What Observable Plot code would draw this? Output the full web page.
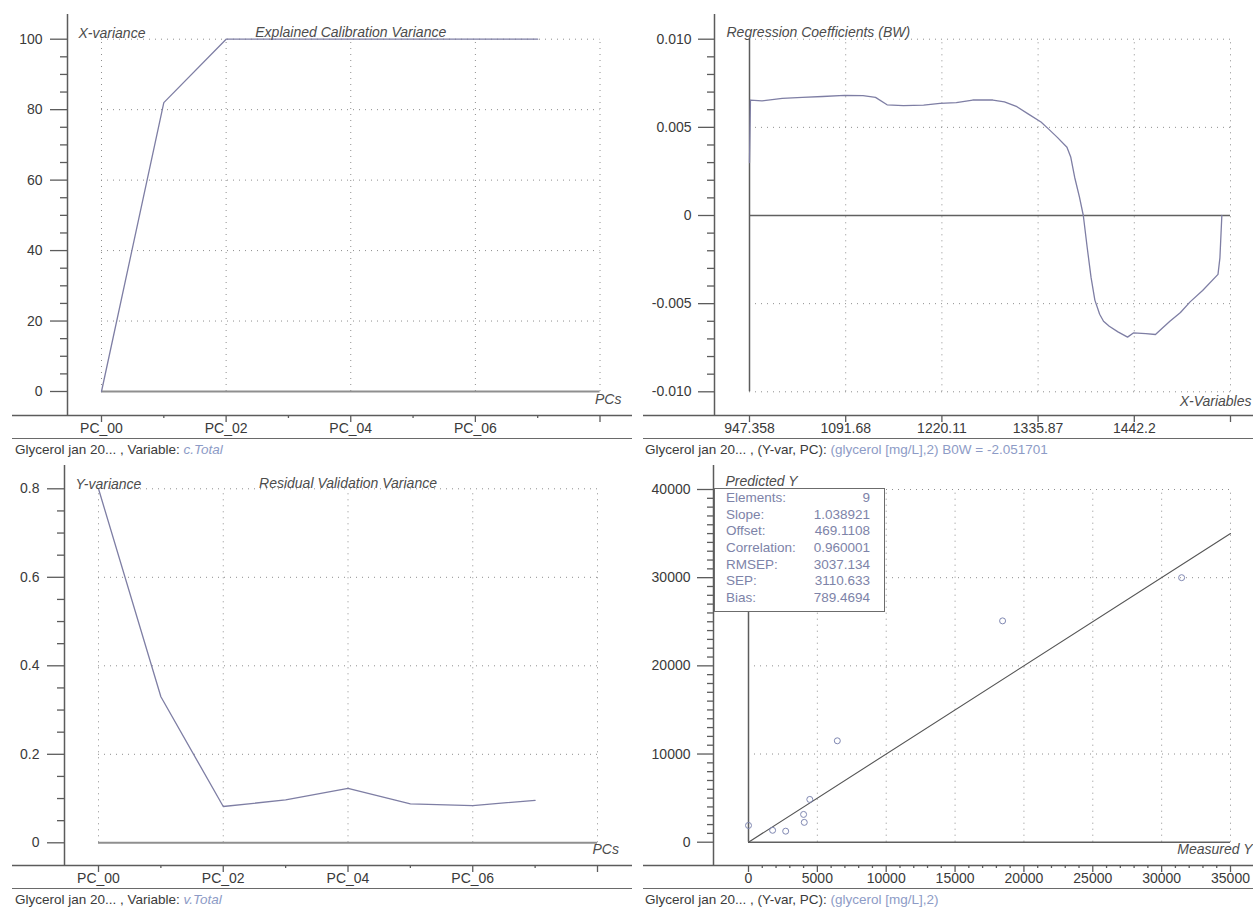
<!DOCTYPE html>
<html>
<head>
<meta charset="utf-8">
<script src="https://cdn.jsdelivr.net/npm/d3@7"></script>
<script src="https://cdn.jsdelivr.net/npm/@observablehq/plot@0.6"></script>
<style>
  body { margin: 0; background: #fff; }
  #wrap { position: relative; width: 1253px; height: 908px; background: #fff; overflow: hidden;
          font-family: "Liberation Sans", Arial, Helvetica, sans-serif; }
  .sep { position: absolute; height: 0; border-top: 1.5px solid #6a6a6a; }
  .foot { position: absolute; font-size: 13.5px; line-height: 16px; color: #3a3a3a; white-space: nowrap; }
  .foot .v { color: #8d9bc6; }
  .stats { position: absolute; box-sizing: border-box; background: #fff; border: 1.5px solid #6c6c6c;
           font-size: 13.5px; color: #7d83a8; padding: 1px 14px 0 11px; }
  .stats .row { display: flex; justify-content: space-between; height: 16.7px; line-height: 16.7px; }
</style>
</head>
<body>
<div id="wrap"></div>
<script>
// ---------------- DATA ----------------
const pcIndex = [0, 1, 2, 3, 4, 5, 6, 7];
const explainedXVariance = [0, 82, 100, 100, 100, 100, 100, 100];
const residualYVariance = [0.80, 0.33, 0.082, 0.097, 0.123, 0.088, 0.084, 0.096];
const pcTickValues = [0, 2, 4, 6, 8];
const pcTickLabels = ["PC_00", "PC_02", "PC_04", "PC_06", ""];

const coefIndex = [0, 1, 13, 34, 55, 76, 99, 118, 131, 143, 160, 181, 198, 215, 232, 253, 265, 278, 290, 303,
  311, 320, 330, 334, 338, 343, 347, 351, 355, 359, 364, 368, 374, 383, 393, 399, 412, 422, 429, 437,
  448, 458, 471, 487, 489, 491];
const coefValue = [0.0030, 0.00655, 0.0065, 0.00664, 0.0067, 0.00675, 0.00681, 0.0068, 0.0067, 0.00628,
  0.00623, 0.00626, 0.00636, 0.0064, 0.00655, 0.00655, 0.00645, 0.00617, 0.00575, 0.0053,
  0.0049, 0.00443, 0.00387, 0.0033, 0.00217, 0.00104, 0, -0.0018, -0.0035, -0.0048,
  -0.0056, -0.006, -0.00628, -0.0066, -0.0069, -0.00666, -0.0067, -0.00675, -0.0064, -0.006,
  -0.0055, -0.0049, -0.00425, -0.00334, -0.0024, 0];
const wavelengthTickIndex = [0, 100, 200, 300, 400, 500];
const wavelengthTickLabels = ["947.358", "1091.68", "1220.11", "1335.87", "1442.2", ""];
const coefTickValues = [-0.01, -0.005, 0, 0.005, 0.01];
const coefTickLabels = ["-0.010", "-0.005", "0", "0.005", "0.010"];

const measuredY = [0, 1750, 2700, 4000, 4050, 4450, 6450, 18450, 31450];
const predictedY = [1900, 1350, 1250, 3150, 2250, 4850, 11500, 25100, 30000];
const targetLine = [0, 35000];

const statNames = ["Elements:", "Slope:", "Offset:", "Correlation:", "RMSEP:", "SEP:", "Bias:"];
const statValues = ["9", "1.038921", "469.1108", "0.960001", "3037.134", "3110.633", "789.4694"];

// ---------------- STYLE ----------------
const FONT = '"Liberation Sans", Arial, Helvetica, sans-serif';
const AXIS = "#5c5c5c";
const GRID = "#8e8e8e";
const LINE = "#7e7ea4";
const TITLE = "#4c4c4c";
const wrap = document.getElementById("wrap");

function lin(v0, p0, v1, p1, pa, pb) {
  const k = (v1 - v0) / (p1 - p0);
  return [v0 + (pa - p0) * k, v0 + (pb - p0) * k];
}
function mount(svg, left, top) {
  svg.style.position = "absolute";
  svg.style.left = left + "px";
  svg.style.top = top + "px";
  wrap.appendChild(svg);
}
function baseStyle() {
  return {fontFamily: FONT, fontSize: "14px", color: "#3a3a3a", background: "transparent", overflow: "visible"};
}
const dotted = {stroke: GRID, strokeDasharray: "1,5", strokeWidth: 1};
const titleText = {fontStyle: "italic", fill: TITLE, fontSize: 14, fontFamily: FONT};

// Generic PC panel (left column)
function pcPanel(opt) {
  const {L, T, W, H, fl, fr, ft, fb, x0, x8, y0px, yTopVal, yTopPx, values, yMajor, yMinor, yLabel, title, lineStart} = opt;
  const xd = lin(0, x0, 8, x8, fl, fr);
  const yd = lin(0, y0px, yTopVal, yTopPx, fb, ft);
  const data = pcIndex.map((pc, i) => ({pc, v: values[i]}));
  const labelMap = new Map(pcTickValues.map((d, i) => [d, pcTickLabels[i]]));
  const svg = Plot.plot({
    width: W, height: H,
    marginLeft: fl - L, marginRight: L + W - fr, marginTop: ft - T, marginBottom: T + H - fb,
    x: {domain: xd, label: null},
    y: {domain: yd, label: null},
    style: baseStyle(),
    marks: [
      Plot.ruleX(pcTickValues, {y1: 0, y2: yTopVal, ...dotted}),
      Plot.ruleY(yMajor.filter(d => d !== 0), {x1: 0, x2: 8, ...dotted}),
      Plot.ruleY([0], {x1: 0, x2: 8, stroke: "#8f8f8f", strokeWidth: 2}),
      Plot.line(data, {x: "pc", y: "v", stroke: LINE, strokeWidth: 1.3}),
      Plot.ruleX([xd[0]], {stroke: AXIS, strokeWidth: 1.5}),
      Plot.ruleY([yd[0]], {stroke: AXIS, strokeWidth: 1.5, insetLeft: -(fl - L - lineStart), insetRight: 0}),
      Plot.axisY({ticks: yMajor, tickSize: 17, tickPadding: 8, stroke: AXIS, strokeWidth: 1.3, label: null,
                  tickFormat: d => d3.format("")(+d.toFixed(3)).replace("−", "-")}),
      Plot.axisY({ticks: yMinor, tickSize: 7, tickFormat: () => "", stroke: AXIS, strokeWidth: 1.3, label: null}),
      Plot.axisX({anchor: "bottom", ticks: pcTickValues, tickSize: 7, tickPadding: 1, stroke: AXIS, strokeWidth: 1.3,
                  label: null, tickFormat: d => labelMap.get(d) ?? ""}),
      Plot.axisX({anchor: "bottom", ticks: [1, 3, 5, 7], tickSize: 3, tickFormat: () => "", stroke: AXIS,
                  strokeWidth: 1.3, label: null}),
      Plot.text([yLabel], {frameAnchor: "top-left", dx: 11, dy: 14, textAnchor: "start", ...titleText}),
      Plot.text([title], {x: () => 4, frameAnchor: "top", dy: 13, textAnchor: "middle", ...titleText}),
      Plot.text(["PCs"], {x: () => 8, frameAnchor: "bottom", dx: -5, dy: -12, textAnchor: "start", ...titleText})
    ]
  });
  mount(svg, L, T);
}

// Panel 1: Explained Calibration Variance
pcPanel({L: 0, T: 0, W: 636, H: 440, fl: 67, fr: 632, ft: 14, fb: 415, x0: 101, x8: 599.5,
  y0px: 391, yTopVal: 100, yTopPx: 38.7, values: explainedXVariance,
  yMajor: [0, 20, 40, 60, 80, 100], yMinor: d3.range(0, 101, 5).filter(d => d % 20 !== 0),
  yLabel: "X-variance", title: "Explained Calibration Variance", lineStart: 12});

// Panel 3: Residual Validation Variance
pcPanel({L: 0, T: 440, W: 636, H: 447, fl: 64, fr: 632, ft: 465, fb: 865, x0: 98, x8: 597,
  y0px: 842.3, yTopVal: 0.8, yTopPx: 488.3, values: residualYVariance,
  yMajor: [0, 0.2, 0.4, 0.6, 0.8], yMinor: d3.range(1, 16).filter(d => d % 4 !== 0).map(d => d * 0.05),
  yLabel: "Y-variance", title: "Residual Validation Variance", lineStart: 12});

// Panel 2: Regression coefficients
{
  const L = 636, T = 0, W = 617, H = 440, fl = 714, fr = 1253, ft = 14, fb = 415;
  const xd = lin(0, 749, 500, 1230, fl, fr);
  const yd = lin(0, 215, 0.01, 38.7, fb, ft);
  const data = coefIndex.map((x, i) => ({x, v: coefValue[i]}));
  const xLab = new Map(wavelengthTickIndex.map((d, i) => [d, wavelengthTickLabels[i]]));
  const yLab = new Map(coefTickValues.map((d, i) => [d, coefTickLabels[i]]));
  const svg = Plot.plot({
    width: W, height: H,
    marginLeft: fl - L, marginRight: L + W - fr, marginTop: ft - T, marginBottom: T + H - fb,
    x: {domain: xd, label: null},
    y: {domain: yd, label: null},
    style: baseStyle(),
    marks: [
      Plot.ruleX(wavelengthTickIndex, {y1: -0.01, y2: 0.01, ...dotted}),
      Plot.ruleY(coefTickValues.filter(d => d !== 0), {x1: 0, x2: 500, ...dotted}),
      Plot.ruleX([0], {y1: -0.01, y2: 0.01, stroke: AXIS, strokeWidth: 1.5}),
      Plot.ruleY([0], {x1: 0, x2: 500, stroke: "#606060", strokeWidth: 1.5}),
      Plot.line(data, {x: "x", y: "v", stroke: LINE, strokeWidth: 1.3}),
      Plot.ruleX([xd[0]], {stroke: AXIS, strokeWidth: 1.5}),
      Plot.ruleY([yd[0]], {stroke: AXIS, strokeWidth: 1.5, insetLeft: -(fl - 643)}),
      Plot.axisY({ticks: coefTickValues, tickSize: 16, tickPadding: 7, stroke: AXIS, strokeWidth: 1.3, label: null,
                  tickFormat: d => yLab.get(d) ?? ""}),
      Plot.axisY({ticks: d3.range(-10, 11).filter(d => d % 5 !== 0).map(d => d / 1000), tickSize: 7,
                  tickFormat: () => "", stroke: AXIS, strokeWidth: 1.3, label: null}),
      Plot.axisX({anchor: "bottom", ticks: wavelengthTickIndex, tickSize: 7, tickPadding: 1, stroke: AXIS,
                  strokeWidth: 1.3, label: null, tickFormat: d => xLab.get(d) ?? ""}),
      Plot.text(["Regression Coefficients (BW)"], {frameAnchor: "top-left", dx: 12, dy: 13, textAnchor: "start", ...titleText}),
      Plot.text(["X-Variables"], {frameAnchor: "bottom-right", dx: -2, dy: -10, textAnchor: "end", ...titleText})
    ]
  });
  mount(svg, L, T);
}

// Panel 4: Predicted vs Measured
{
  const L = 636, T = 440, W = 617, H = 447, fl = 713, fr = 1253, ft = 465, fb = 865;
  const xd = lin(0, 748, 35000, 1230, fl, fr);
  const yd = lin(0, 841.7, 40000, 489, fb, ft);
  const pts = measuredY.map((m, i) => ({m, p: predictedY[i]}));
  const xMajor = d3.range(0, 35001, 5000);
  const yMajor = d3.range(0, 40001, 10000);
  const svg = Plot.plot({
    width: W, height: H,
    marginLeft: fl - L, marginRight: L + W - fr, marginTop: ft - T, marginBottom: T + H - fb,
    x: {domain: xd, label: null},
    y: {domain: yd, label: null},
    style: baseStyle(),
    marks: [
      Plot.ruleX(xMajor.filter(d => d !== 0), {y1: 0, y2: 40000, ...dotted}),
      Plot.ruleY(yMajor.filter(d => d !== 0), {x1: 0, x2: 35000, ...dotted}),
      Plot.ruleX([0], {y1: 0, y2: 40000, stroke: AXIS, strokeWidth: 1.5}),
      Plot.ruleY([0], {x1: 0, x2: 35000, stroke: "#606060", strokeWidth: 1.5}),
      Plot.line(targetLine, {x: d => d, y: d => d, stroke: "#555", strokeWidth: 1.1}),
      Plot.dot(pts, {x: "m", y: "p", r: 3, stroke: "#8088b2", fill: "none", strokeWidth: 1}),
      Plot.ruleX([xd[0]], {stroke: AXIS, strokeWidth: 1.5}),
      Plot.ruleY([yd[0]], {stroke: AXIS, strokeWidth: 1.5, insetLeft: -(fl - 643)}),
      Plot.axisY({ticks: yMajor, tickSize: 16, tickPadding: 7, stroke: AXIS, strokeWidth: 1.3, label: null,
                  tickFormat: d => String(d)}),
      Plot.axisY({ticks: d3.range(0, 40001, 1000).filter(d => d % 10000 !== 0), tickSize: 6,
                  tickFormat: () => "", stroke: AXIS, strokeWidth: 1.3, label: null}),
      Plot.axisX({anchor: "bottom", ticks: xMajor, tickSize: 7, tickPadding: 1, stroke: AXIS, strokeWidth: 1.3,
                  label: null, tickFormat: d => String(d)}),
      Plot.axisX({anchor: "bottom", ticks: d3.range(0, 35001, 1000).filter(d => d % 5000 !== 0), tickSize: 3,
                  tickFormat: () => "", stroke: AXIS, strokeWidth: 1.3, label: null}),
      Plot.text(["Predicted Y"], {frameAnchor: "top-left", dx: 12, dy: 11, textAnchor: "start", ...titleText}),
      Plot.text(["Measured Y"], {frameAnchor: "bottom-right", dx: -1, dy: -12, textAnchor: "end", ...titleText})
    ]
  });
  mount(svg, L, T);

  const box = document.createElement("div");
  box.className = "stats";
  Object.assign(box.style, {left: "714px", top: "488px", width: "171px", height: "124px"});
  statNames.forEach((n, i) => {
    const row = document.createElement("div");
    row.className = "row";
    const a = document.createElement("span"); a.textContent = n;
    const b = document.createElement("span"); b.textContent = statValues[i];
    row.append(a, b);
    box.appendChild(row);
  });
  wrap.appendChild(box);
}

// Separators and footers
function sep(left, top, width) {
  const d = document.createElement("div");
  d.className = "sep";
  Object.assign(d.style, {left: left + "px", top: top + "px", width: width + "px"});
  wrap.appendChild(d);
}
function foot(left, top, plain, colored, italic) {
  const d = document.createElement("div");
  d.className = "foot";
  d.style.left = left + "px"; d.style.top = top + "px";
  d.append(plain);
  const s = document.createElement(italic ? "i" : "span");
  s.className = "v";
  s.textContent = colored;
  d.appendChild(s);
  wrap.appendChild(d);
}
sep(12, 438, 620); sep(643, 438, 610);
sep(12, 888, 620); sep(643, 888, 610);
foot(15, 442, "Glycerol jan 20... , Variable:  ", "c.Total", true);
foot(645, 442, "Glycerol jan 20... , (Y-var, PC): ", "(glycerol [mg/L],2) B0W = -2.051701", false);
foot(15, 892, "Glycerol jan 20... , Variable:  ", "v.Total", true);
foot(645, 892, "Glycerol jan 20... , (Y-var, PC): ", "(glycerol [mg/L],2)", false);
</script>
</body>
</html>
